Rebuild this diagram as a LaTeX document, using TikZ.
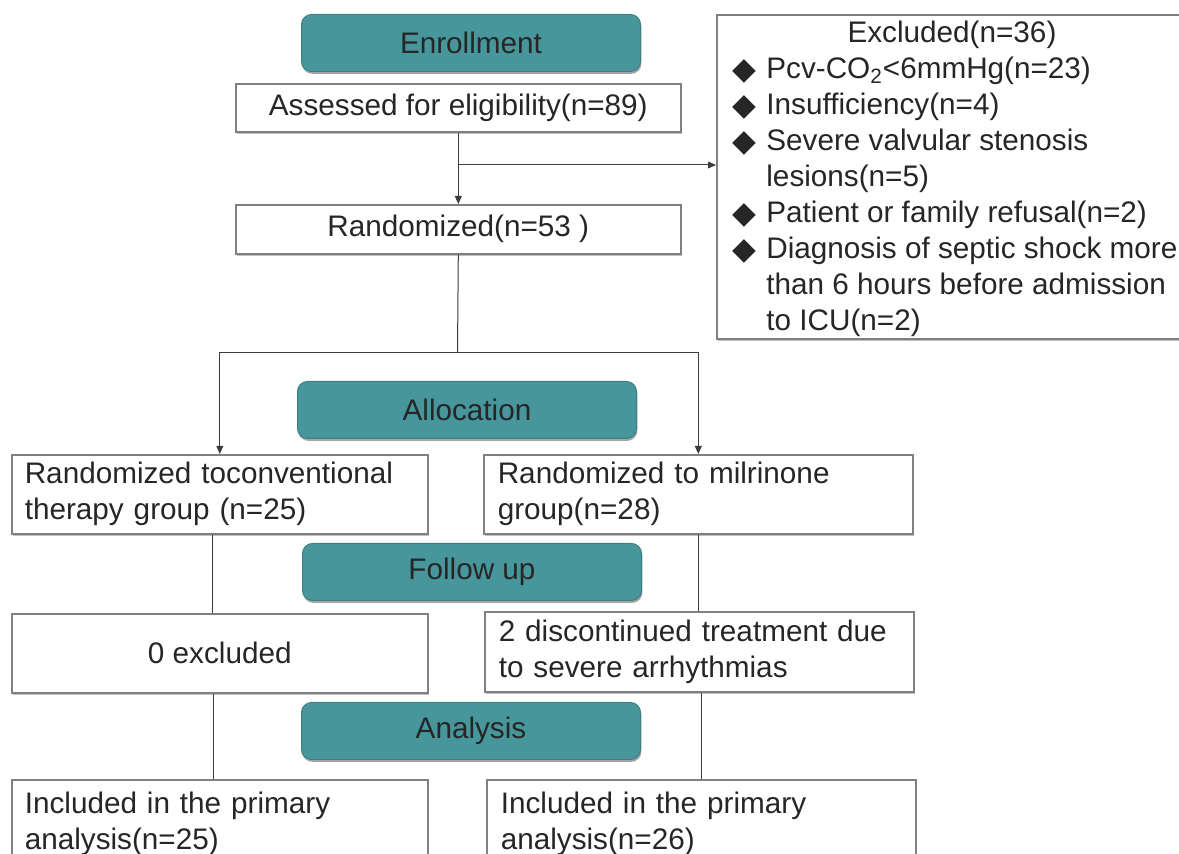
\documentclass[tikz,border=0pt]{standalone}
\usepackage{fontspec}
\setmainfont{Liberation Sans}
\newfontfamily\dejavu{DejaVu Sans}
\usetikzlibrary{arrows.meta,shadows}
\definecolor{teal1}{RGB}{70,150,156}
\definecolor{boxgray}{RGB}{128,128,128}
\definecolor{linegray}{RGB}{60,60,60}
\newcommand{\dia}{\makebox[17pt][l]{\raisebox{-0.5pt}{\dejavu\fontsize{15.5pt}{18pt}\selectfont ◆}}}
\newcommand{\nodia}{\hspace*{17pt}}
\begin{document}
\begin{tikzpicture}[x=0.5pt,y=-0.5pt,
  every node/.style={font=\fontsize{14.85pt}{18pt}\selectfont, text=black!85},
  phase/.style={draw=teal1!85!black, fill=teal1, rounded corners=5pt, line width=0.5pt,
    inner sep=0pt, anchor=north west, minimum width=169.5pt, minimum height=28.5pt,
    drop shadow={shadow xshift=0.4pt, shadow yshift=-1.2pt, fill=black, opacity=0.35}},
  boxw/.style={draw=boxgray, fill=white, line width=0.8pt, inner sep=0pt, anchor=north west,
    drop shadow={shadow xshift=0.5pt, shadow yshift=-1.2pt, fill=black, opacity=0.25}},
  conn/.style={draw=linegray, line width=0.5pt},
  arr/.style={conn, -{Triangle[length=4pt,width=3.4pt]}}]
\useasboundingbox (0,0) rectangle (1179,854);
\clip (0,0) rectangle (1179,854);

% enrollment
\node[phase] (enr) at (301,14) {Enrollment};
\node[boxw, minimum width=222.5pt, minimum height=24pt] (ass) at (235,83) {Assessed for eligibility(n=89)};
\node[boxw, minimum width=222.5pt, minimum height=24.5pt] (rand) at (235,204) {Randomized(n=53 )};

% excluded
\node[boxw, minimum width=240pt, minimum height=162pt] (excl) at (716,14) {};
\node (exhead) at (952,35) {Excluded(n=36)};
\node[anchor=west, inner sep=0pt, align=left] (exlist) at (732,197) {%
\dia Pcv-CO\textsubscript{2}<6mmHg(n=23)\\
\dia Insufficiency(n=4)\\
\dia Severe valvular stenosis\\
\nodia lesions(n=5)\\
\dia Patient or family refusal(n=2)\\
\dia Diagnosis of septic shock more\\
\nodia than 6 hours before admission\\
\nodia to ICU(n=2)};

% allocation
\node[phase] (alloc) at (297,381) {Allocation};
\node[boxw, minimum width=208pt, minimum height=39.5pt, text width=195pt, inner xsep=6.5pt, align=left] (lg) at (11,454)
  {Randomized toconventional\\therapy group (n=25)};
\node[boxw, minimum width=214.5pt, minimum height=39.5pt, text width=200.5pt, inner xsep=7pt, align=left] (rg) at (483,454)
  {Randomized to milrinone\\group(n=28)};

% follow up
\node[phase] (fol) at (302,543) {Follow up};
\node[boxw, minimum width=208pt, minimum height=39.5pt] (ex0) at (11,613) {0 excluded};
\node[boxw, minimum width=214.5pt, minimum height=40pt, text width=200.5pt, inner xsep=7pt, align=left] (disc) at (484,611)
  {2 discontinued treatment due\\to severe arrhythmias};

% analysis
\node[phase] (ana) at (301,702) {Analysis};
\node[boxw, minimum width=208pt, minimum height=44pt, text width=195pt, inner xsep=6.5pt, align=left] (incl) at (11,779)
  {Included in the primary\\analysis(n=25)};
\node[boxw, minimum width=214.5pt, minimum height=44pt, text width=200.5pt, inner xsep=7pt, align=left] (incr) at (486,779)
  {Included in the primary\\analysis(n=26)};

% connectors
\coordinate (br) at (457.5,165);
\coordinate (split) at (457.5,353);
\draw[arr] (ass.south) -- (rand.north);
\draw[arr] (br) -- (br -| excl.west);
\draw[conn] (rand.south) -- (split);
\draw[arr] (split) -| (lg.north);
\draw[arr] (split) -| (rg.north);
\draw[conn] ([xshift=-3.5pt]lg.south) -- ([xshift=-3.5pt]lg.south |- ex0.north);
\draw[conn] (rg.south) -- (rg.south |- disc.north);
\draw[conn] ([xshift=-3pt]ex0.south) -- ([xshift=-3pt]ex0.south |- incl.north);
\draw[conn] ([xshift=1pt]disc.south) -- ([xshift=1pt]disc.south |- incr.north);
\end{tikzpicture}
\end{document}
